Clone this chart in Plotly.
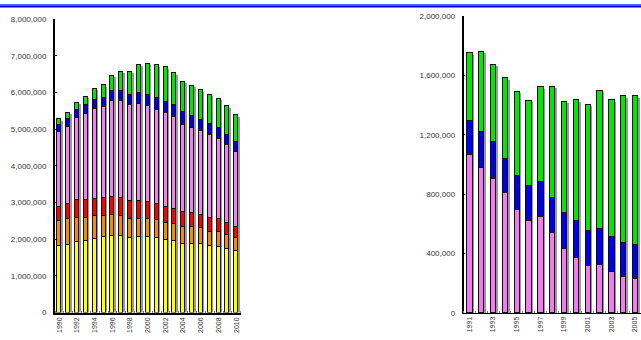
import plotly.graph_objects as go

# ---- left panel: 1990-2010, six stacked components ----
years_left = list(range(1990, 2011))
left_tick_labels = [str(y) for y in range(1990, 2011, 2)]

yellow = [1810000, 1850000, 1930000, 1950000, 2010000, 2060000, 2100000, 2080000, 2020000, 2050000, 2050000,
          2020000, 1970000, 1950000, 1880000, 1880000, 1870000, 1820000, 1800000, 1740000, 1670000]
orange = [690000, 690000, 660000, 630000, 610000, 580000, 570000, 550000, 530000, 510000, 500000,
          500000, 480000, 470000, 450000, 440000, 430000, 390000, 390000, 370000, 350000]
red = [390000, 410000, 480000, 490000, 470000, 480000, 480000, 490000, 480000, 490000, 470000,
       450000, 430000, 410000, 410000, 390000, 360000, 360000, 360000, 340000, 320000]
violet = [2040000, 2110000, 2230000, 2340000, 2470000, 2480000, 2620000, 2640000, 2620000, 2630000, 2600000,
          2540000, 2550000, 2490000, 2380000, 2330000, 2290000, 2280000, 2190000, 2120000, 2040000]
blue = [190000, 210000, 220000, 240000, 240000, 250000, 270000, 280000, 290000, 300000, 300000,
        330000, 320000, 330000, 340000, 310000, 310000, 300000, 290000, 280000, 270000]
green = [150000, 170000, 200000, 230000, 300000, 340000, 410000, 520000, 620000, 780000, 860000,
         900000, 930000, 870000, 830000, 830000, 800000, 790000, 790000, 770000, 730000]

# ---- right panel: 1991-2005, three stacked components ----
years_right = list(range(1991, 2006))
right_tick_labels = [str(y) for y in range(1991, 2006, 2)]

pink_r = [1066000, 977000, 905000, 809000, 693000, 620000, 643000, 540000, 430000, 371000, 315000,
          321000, 277000, 245000, 229000]
blue_r = [226000, 240000, 245000, 227000, 232000, 236000, 240000, 234000, 245000, 245000, 240000,
          247000, 232000, 223000, 227000]
green_r = [456000, 542000, 520000, 546000, 565000, 574000, 636000, 751000, 748000, 817000, 846000,
           927000, 922000, 992000, 1004000]

left_series = [yellow, orange, red, violet, blue, green]
left_colors = ["#FFFF00", "#F28C00", "#FF0000", "#EE82EE", "#0000F0", "#00E800"]
right_series = [pink_r, blue_r, green_r]
right_colors = ["#F07CF0", "#0000F0", "#00E800"]

BAR_W = 0.45
SHADOW = "#9a9a9a"

fig = go.Figure()

# drop shadows (base axes), drawn first
for vals in left_series:
    fig.add_trace(go.Bar(x=years_left, y=vals, width=BAR_W, marker=dict(color=SHADOW, line=dict(width=0)),
                         xaxis="x", yaxis="y", showlegend=False, hoverinfo="skip"))
for vals in right_series:
    fig.add_trace(go.Bar(x=years_right, y=vals, width=BAR_W, marker=dict(color=SHADOW, line=dict(width=0)),
                         xaxis="x2", yaxis="y2", showlegend=False, hoverinfo="skip"))

# main bars on overlaying axes
for vals, col in zip(left_series, left_colors):
    fig.add_trace(go.Bar(x=years_left, y=vals, width=BAR_W,
                         marker=dict(color=col, line=dict(color="#111111", width=1)),
                         xaxis="x3", yaxis="y3", showlegend=False))
for vals, col in zip(right_series, right_colors):
    fig.add_trace(go.Bar(x=years_right, y=vals, width=BAR_W,
                         marker=dict(color=col, line=dict(color="#111111", width=1)),
                         xaxis="x4", yaxis="y4", showlegend=False))

LX = [55 / 641, 240.7 / 641]
LY = [(340 - 317) / 340, (340 - 15.4) / 340]
RX = [463.5 / 641, 1.0]
RY = [(340 - 317.3) / 340, (340 - 12.3) / 340]

font_tick = dict(family="Liberation Sans, Arial, sans-serif", size=8, color="#333333")
font_xtick = dict(family="Liberation Sans, Arial, sans-serif", size=7, color="#333333")

hidden = dict(visible=False, fixedrange=True)

# shadow offsets (about 1.5 px right and down)
lx_sh = 1.5 / 8.84
rx_sh = 1.5 / 11.83
ly_sh = 1.5 / 37.7 * 1e6
ry_sh = 1.5 / 152.5 * 1e6

fig.update_layout(
    width=641, height=340,
    margin=dict(l=0, r=0, t=0, b=0),
    paper_bgcolor="white", plot_bgcolor="rgba(0,0,0,0)",
    barmode="stack", bargap=0,
    xaxis=dict(domain=LX, range=[1989.5 - lx_sh, 2010.5 - lx_sh], **hidden),
    yaxis=dict(domain=LY, range=[ly_sh, 8000000 + ly_sh], **hidden),
    xaxis2=dict(domain=RX, range=[1990.5 - rx_sh, 2005.5 - rx_sh], anchor="y2", **hidden),
    yaxis2=dict(domain=RY, range=[ry_sh, 2000000 + ry_sh], anchor="x2", **hidden),
    xaxis3=dict(overlaying="x", range=[1989.5, 2010.5], anchor="y3",
                showline=True, linecolor="black", linewidth=2, showgrid=False, zeroline=False,
                tickvals=[int(t) for t in left_tick_labels], ticktext=left_tick_labels,
                ticks="", tickangle=-90, tickfont=font_xtick,
                minor=dict(ticks="inside", ticklen=2, tickcolor="#888888", tick0=1989.5, dtick=1)),
    yaxis3=dict(overlaying="y", range=[0, 8000000], anchor="x3",
                showline=True, linecolor="black", linewidth=2, showgrid=False, zeroline=False,
                dtick=1000000, tick0=0, tickformat=",d", ticks="inside", ticklen=2,
                tickcolor="black", tickfont=font_tick, ticklabelstandoff=5),
    xaxis4=dict(overlaying="x2", range=[1990.5, 2005.5], anchor="y4",
                showline=True, linecolor="black", linewidth=1, showgrid=False, zeroline=False,
                tickvals=[int(t) for t in right_tick_labels], ticktext=right_tick_labels,
                ticks="", tickangle=-90, tickfont=font_xtick,
                minor=dict(ticks="inside", ticklen=2, tickcolor="#888888", tick0=1990.5, dtick=1)),
    yaxis4=dict(overlaying="y2", range=[0, 2000000], anchor="x4",
                showline=True, linecolor="black", linewidth=1.5, showgrid=False, zeroline=False,
                dtick=400000, tick0=0, tickformat=",d", ticks="inside", ticklen=2,
                tickcolor="black", tickfont=font_tick, ticklabelstandoff=5),
    shapes=[
        dict(type="rect", xref="paper", yref="paper", x0=0, x1=1,
             y0=(340 - 1.5) / 340, y1=1.0, fillcolor="#5a5aff", line=dict(width=0), layer="above"),
        dict(type="rect", xref="paper", yref="paper", x0=0, x1=1,
             y0=(340 - 3.5) / 340, y1=(340 - 1.5) / 340, fillcolor="#0000e6", line=dict(width=0), layer="above"),
    ],
)

fig.write_html("out.html")
